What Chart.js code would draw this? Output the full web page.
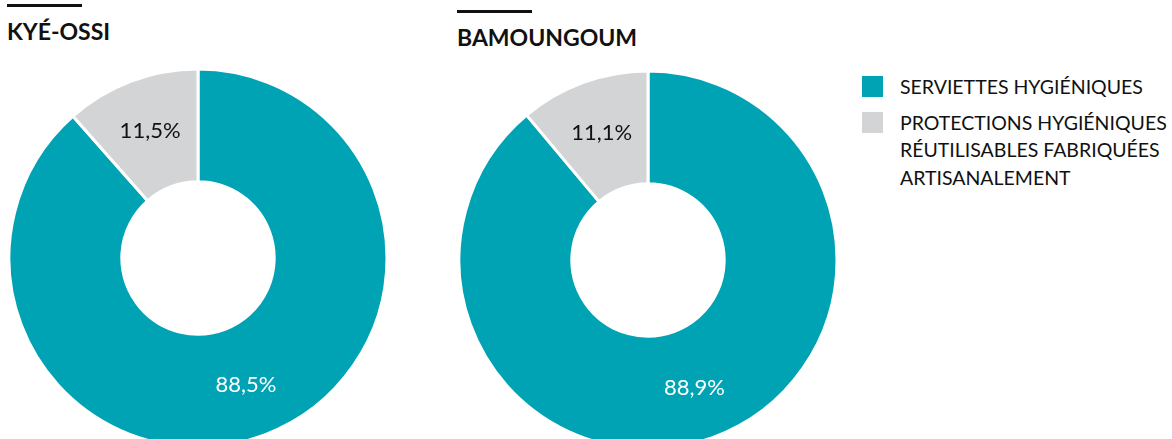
<!DOCTYPE html>
<html lang="fr">
<head>
<meta charset="utf-8">
<script src="https://cdn.jsdelivr.net/npm/chart.js@4/dist/chart.umd.min.js"></script>
<style>
  html, body { margin: 0; padding: 0; background: #fff; width: 1172px; height: 439px; overflow: hidden; }
  body { position: relative; font-family: Lato, "Open Sans", sans-serif; color: #111; }
  .titre { position: absolute; font-weight: bold; font-size: 23px; }
  .titre::before { content: ''; position: absolute; left: 0; top: -13px; width: 75px; height: 3px; background: #111; }
  .graphe { position: absolute; width: 380px; height: 380px; }
  #legende { position: absolute; left: 862px; top: 73px; font-size: 19.5px; line-height: 27.5px; }
  .item { position: relative; padding-left: 38px; margin-bottom: 8px; }
  .item span { position: absolute; left: 0; top: 3px; width: 21px; height: 21px; }
</style>
</head>
<body>
<div class="titre" style="left:7px; top:17px;">KYÉ-OSSI</div>
<div class="titre" style="left:457px; top:23px;">BAMOUNGOUM</div>
<canvas id="graficoKye" class="graphe" style="left:8px; top:68px;"></canvas>
<canvas id="graficoBam" class="graphe" style="left:458px; top:70px;"></canvas>
<div id="legende"></div>

<script>
const categorias = [
  ['SERVIETTES HYGIÉNIQUES'],
  ['PROTECTIONS HYGIÉNIQUES', 'RÉUTILISABLES FABRIQUÉES', 'ARTISANALEMENT']
];
const kyeOssi = [88.5, 11.5];
const bamoungoum = [88.9, 11.1];

const colores = ['#00a3b3', '#d3d4d6'];
const coloresTexto = ['#ffffff', '#111111'];

function formatoPct(v) {
  return v.toFixed(1).replace('.', ',') + '%';
}

// etiquetas dentro de cada segmento
const etiquetas = {
  id: 'etiquetas',
  afterDatasetsDraw(chart) {
    const ctx = chart.ctx;
    const meta = chart.getDatasetMeta(0);
    const valores = chart.data.datasets[0].data;
    meta.data.forEach((arc, i) => {
      const p = arc.getProps(['x', 'y', 'startAngle', 'endAngle', 'innerRadius', 'outerRadius'], true);
      const ang = (p.startAngle + p.endAngle) / 2;
      const r = (p.innerRadius + p.outerRadius) / 2 + 3;
      ctx.save();
      ctx.font = '22px Lato, "Open Sans", sans-serif';
      ctx.fillStyle = coloresTexto[i];
      ctx.textAlign = 'center';
      ctx.textBaseline = 'middle';
      ctx.fillText(formatoPct(valores[i]), p.x + Math.cos(ang) * r, p.y + Math.sin(ang) * r);
      ctx.restore();
    });
  }
};

function crearDona(id, datos) {
  new Chart(document.getElementById(id), {
    type: 'doughnut',
    data: {
      labels: categorias.map(c => c.join(' ')),
      datasets: [{
        data: datos,
        backgroundColor: colores,
        borderColor: '#ffffff',
        borderWidth: 3,
        radius: 189,
        cutout: 76
      }]
    },
    options: {
      responsive: false,
      animation: false,
      events: [],
      layout: { padding: 0 },
      plugins: {
        legend: { display: false },
        tooltip: { enabled: false }
      }
    },
    plugins: [etiquetas]
  });
}

crearDona('graficoKye', kyeOssi);
crearDona('graficoBam', bamoungoum);

const legende = document.getElementById('legende');
categorias.forEach((lineas, i) => {
  const div = document.createElement('div');
  div.className = 'item';
  div.innerHTML = '<span style="background:' + colores[i] + '"></span>' + lineas.join('<br>');
  legende.appendChild(div);
});
</script>
</body>
</html>
